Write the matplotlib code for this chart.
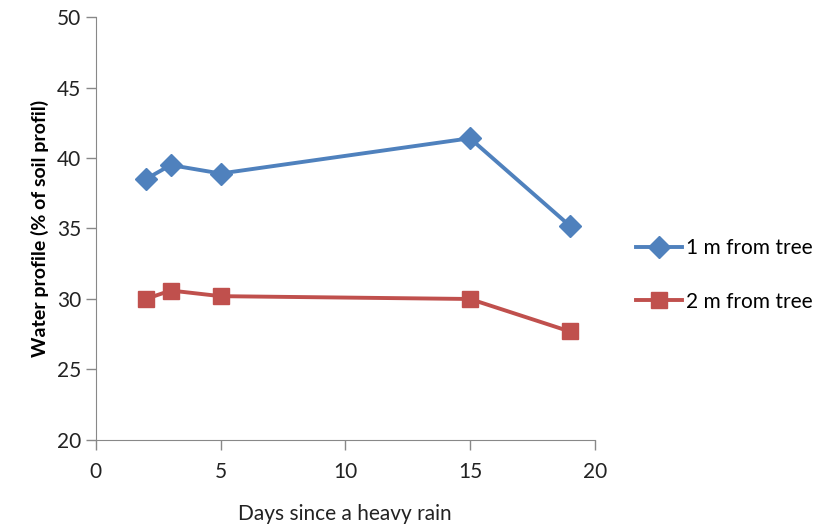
import matplotlib
matplotlib.use('Agg')
from matplotlib import pyplot as plt

plt.rcParams['font.family'] = ['Lato', 'DejaVu Sans']

# days after rain and water content at two distances
days = [2, 3, 5, 15, 19]
near_tree = [38.5, 39.5, 38.9, 41.4, 35.2]
far_tree = [30.0, 30.6, 30.2, 30.0, 27.7]
labels = ['1 m from tree', '2 m from tree']

fig = plt.figure(figsize=(8.34, 5.32), dpi=100)
ax = fig.add_axes([0.115, 0.173, 0.598, 0.795])

ax.plot(days, near_tree, color='#4F81BD', lw=2.8, marker='D', ms=11, label=labels[0])
ax.plot(days, far_tree, color='#C0504D', lw=2.8, marker='s', ms=12, label=labels[1])

ax.set_xlim(0, 20)
ax.set_ylim(20, 50)
ax.set_xticks(range(0, 21, 5))
ax.set_yticks(range(20, 51, 5))

for s in ['top', 'right']:
    ax.spines[s].set_visible(False)
for s in ['left', 'bottom']:
    ax.spines[s].set_color('#888888')
ax.tick_params(colors='#888888', labelcolor='#222222', labelsize=15, length=7, width=1)
ax.tick_params(axis='x', pad=9)

ax.set_xlabel('Days since a heavy rain', fontsize=15, labelpad=16, color='#222222')
ax.set_ylabel('Water profile (% of soil profil)', fontsize=14, fontweight='bold', labelpad=6)

ax.legend(loc='center left', bbox_to_anchor=(1.045, 0.39), frameon=False, fontsize=15,
          handlelength=2.2, labelspacing=1.6, handletextpad=0.2)

fig.savefig('out.png', dpi=100)
